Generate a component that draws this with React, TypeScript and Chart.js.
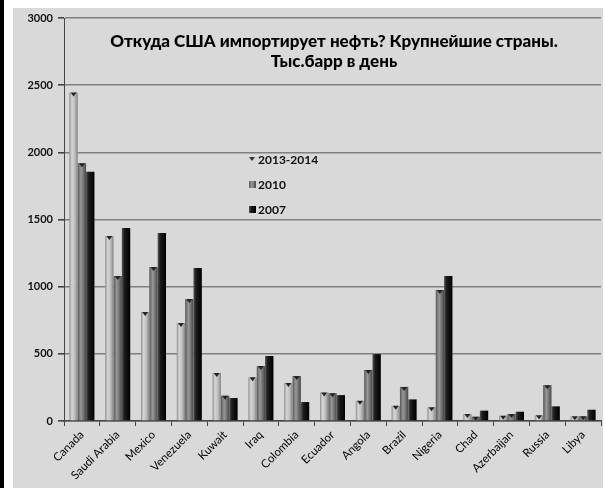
import React, { useEffect, useRef } from 'react';
import { Chart, registerables } from 'chart.js';

Chart.register(...registerables);

const countries = ['Canada', 'Saudi Arabia', 'Mexico', 'Venezuela', 'Kuwait', 'Iraq', 'Colombia', 'Ecuador', 'Angola', 'Brazil', 'Nigeria', 'Chad', 'Azerbaijan', 'Russia', 'Libya'];
const series2013 = [2445, 1378, 811, 730, 358, 325, 283, 212, 150, 113, 103, 52, 40, 42, 35];
const series2010 = [1918, 1079, 1146, 908, 188, 409, 335, 207, 380, 254, 975, 32, 52, 267, 35];
const series2007 = [1856, 1437, 1400, 1139, 171, 484, 141, 193, 498, 161, 1079, 77, 69, 109, 84];
const seriesLabels = ['2013-2014', '2010', '2007'];
const yTicks = [0, 500, 1000, 1500, 2000, 2500, 3000];
const titleLines = ['Откуда США импортирует нефть? Крупнейшие страны.', 'Тыс.барр в день'];

const CAT_PCT = 0.7;
const gradStops: [number, string][][] = [
  [[0, '#8e8e8e'], [0.3, '#d6d6d6'], [0.65, '#bdbdbd'], [1, '#828282']],
  [[0, '#585858'], [0.4, '#999999'], [1, '#474747']],
  [[0, '#555555'], [0.3, '#1c1c1c'], [1, '#000000']],
];
const solid = ['#c0c0c0', '#808080', '#111111'];

function barFill(ctx: any) {
  const chart = ctx.chart;
  const xs = chart.scales?.x;
  const di = ctx.datasetIndex;
  if (!xs || !chart.chartArea || ctx.type !== 'data') return solid[di];
  const center = xs.getPixelForValue(ctx.dataIndex);
  const catW = xs.width / countries.length;
  const bw = (catW * CAT_PCT) / 3;
  const left = center + (di - 1.5) * bw;
  const g = chart.ctx.createLinearGradient(left, 0, left + bw, 0);
  gradStops[di].forEach(([o, c]) => g.addColorStop(o, c));
  return g;
}

const bgPlugin = {
  id: 'bg',
  beforeDraw(chart: any) {
    const c = chart.ctx;
    c.save();
    c.fillStyle = '#ffffff';
    c.fillRect(0, 0, chart.width, chart.height);
    c.fillStyle = '#000000';
    c.fillRect(0, 0, 4, chart.height);
    c.fillStyle = '#d9d9d9';
    c.fillRect(13, 8, 590, chart.height - 8);
    c.restore();
  },
};

const markerPlugin = {
  id: 'markers',
  afterDatasetsDraw(chart: any) {
    const c = chart.ctx;
    c.save();
    c.fillStyle = '#222222';
    [0, 1].forEach((di) => {
      chart.getDatasetMeta(di).data.forEach((el: any) => {
        c.beginPath();
        c.moveTo(el.x - 3, el.y);
        c.lineTo(el.x + 3, el.y);
        c.lineTo(el.x, el.y + 4);
        c.closePath();
        c.fill();
      });
    });
    c.restore();
  },
};

const overlayPlugin = {
  id: 'overlay',
  afterDraw(chart: any) {
    const c = chart.ctx;
    const a = chart.chartArea;
    c.save();
    c.fillStyle = '#000000';
    c.textAlign = 'center';
    c.textBaseline = 'middle';
    c.font = '900 17px Lato, "Open Sans", sans-serif';
    const cx = a.left + 270;
    c.fillText(titleLines[0], cx, a.top + 24);
    c.fillText(titleLines[1], cx, a.top + 44);

    // legend
    c.textAlign = 'left';
    c.font = 'bold 12px Lato, "Open Sans", sans-serif';
    const lx = a.left + 186;
    seriesLabels.forEach((lab, i) => {
      const y = a.top + 142 + i * 25;
      if (i === 0) {
        c.fillStyle = '#333333';
        c.beginPath();
        c.moveTo(lx - 1, y - 3);
        c.lineTo(lx + 5, y - 3);
        c.lineTo(lx + 2, y + 1);
        c.closePath();
        c.fill();
      } else {
        const g = c.createLinearGradient(lx - 1, 0, lx + 6, 0);
        gradStops[i].forEach(([o, col]: [number, string]) => g.addColorStop(o, col));
        c.fillStyle = g;
        c.fillRect(lx - 1, y - 4, 7, 7);
      }
      c.fillStyle = '#111111';
      c.fillText(lab, lx + 8, y);
    });
    c.restore();
  },
};

export default function App() {
  const ref = useRef<HTMLCanvasElement>(null);
  useEffect(() => {
    document.body.style.margin = '0';
    const chart = new Chart(ref.current!, {
      type: 'bar',
      data: {
        labels: countries,
        datasets: [series2013, series2010, series2007].map((d, i) => ({
          label: seriesLabels[i],
          data: d,
          backgroundColor: barFill,
          borderWidth: 0,
          categoryPercentage: CAT_PCT,
          barPercentage: 1,
        })),
      },
      options: {
        responsive: false,
        animation: false,
        devicePixelRatio: 1,
        layout: { padding: { left: 14, top: 18, right: 4, bottom: 0 } },
        plugins: { legend: { display: false }, tooltip: { enabled: false }, title: { display: false } },
        scales: {
          x: {
            afterFit: (s: any) => { s.height = 67; },
            grid: { offset: true, drawOnChartArea: false, tickLength: 5, tickColor: '#444444', lineWidth: 1 },
            border: { color: '#444444', width: 1.5 },
            ticks: {
              minRotation: 45,
              maxRotation: 45,
              padding: 2,
              color: '#000000',
              font: { family: 'Lato, "Open Sans", sans-serif', size: 11.5 },
            },
          },
          y: {
            min: 0,
            max: 3000,
            afterFit: (s: any) => { s.width = 50; },
            afterBuildTicks: (s: any) => { s.ticks = yTicks.map((v) => ({ value: v })); },
            grid: { color: '#808080', lineWidth: 1.6, tickLength: 6, tickColor: '#444444' },
            border: { color: '#444444', width: 1 },
            ticks: {
              padding: 5,
              color: '#111111',
              callback: (v: any) => String(v),
              font: { family: 'Lato, "Open Sans", sans-serif', size: 11, weight: 'bold' },
            },
          },
        },
      },
      plugins: [bgPlugin, markerPlugin, overlayPlugin],
    } as any);
    return () => chart.destroy();
  }, []);
  return (
    <div style={{ position: 'absolute', left: 0, top: 0, width: 605, height: 488 }}>
      <canvas ref={ref} width={605} height={488} style={{ width: 605, height: 488, display: 'block' }} />
    </div>
  );
}
